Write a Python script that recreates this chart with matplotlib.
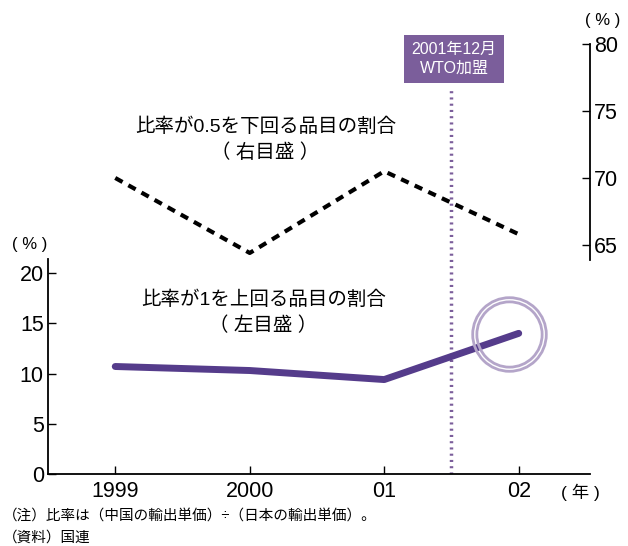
import matplotlib.pyplot as plt

plt.rcParams['font.family'] = ['Liberation Sans', 'Noto Sans CJK JP', 'DejaVu Sans']

years = [1999, 2000, 2001, 2002]
year_labels = ['1999', '2000', '01', '02']
above_1 = [10.7, 10.3, 9.4, 14.0]      # left scale
below_05 = [70.0, 64.4, 70.5, 65.8]    # right scale
wto_x = 2001.5
left_ticks = [0, 5, 10, 15, 20]
right_ticks = [65, 70, 75, 80]

purple = '#553c8b'
box_purple = '#7b5e9b'
ring = '#b4a5c9'

fig = plt.figure(figsize=(6.28, 5.46), dpi=100)
ax = fig.add_axes([48/628, 1 - 474/546, (590-48)/628, (474-44)/546])
ax.set_xlim(1998.5, 2002.53)
ax.set_ylim(0, 42.8)

ax.plot(years, above_1, color=purple, lw=5, solid_capstyle='round', zorder=3)
# highlight ring around last point
ax.plot(years[-1] - 0.07, above_1[-1] - 0.1, 'o', ms=53, mfc='none', mec=ring, mew=2, zorder=4)
ax.plot(years[-1] - 0.07, above_1[-1] - 0.1, 'o', ms=47, mfc='none', mec=ring, mew=2, zorder=4)

ax.axvline(wto_x, ymin=0, ymax=0.893, color=box_purple, lw=2.5, ls=(0, (0.6, 1.2)), zorder=2)

for s in ['top', 'right']:
    ax.spines[s].set_visible(False)
ax.spines['left'].set_bounds(0, 21.4)
ax.spines['left'].set_linewidth(1.3)
ax.spines['bottom'].set_linewidth(1.3)
ax.set_yticks(left_ticks)
ax.set_xticks(years)
ax.set_xticklabels(year_labels)
ax.tick_params(direction='in', length=6, width=1, labelsize=15.5, pad=3)
ax.tick_params(axis='x', pad=5)

ax2 = ax.twinx()
ax2.set_ylim(47.9, 80)
ax2.plot(years, below_05, color='black', lw=3, ls=(0, (2, 1.6)))
for s in ['top', 'left', 'bottom']:
    ax2.spines[s].set_visible(False)
ax2.spines['right'].set_bounds(63.9, 80)
ax2.spines['right'].set_linewidth(1.3)
ax2.set_yticks(right_ticks)
ax2.tick_params(direction='in', length=6, width=1, labelsize=15.5, pad=3)

# labels
fig.text(30/628, 1 - 245/546, '( % )', fontsize=12, ha='center', va='center')
fig.text(603/628, 1 - 20/546, '( % )', fontsize=12, ha='center', va='center')
fig.text(580/628, 1 - 492/546, '( 年 )', fontsize=12.5, ha='center', va='center')

fig.text(266/628, 1 - 127/546, '比率が0.5を下回る品目の割合', fontsize=14, ha='center', va='center')
fig.text(265/628, 1 - 153/546, '（ 右目盛 ）', fontsize=14, ha='center', va='center')
fig.text(264/628, 1 - 300/546, '比率が1を上回る品目の割合', fontsize=14, ha='center', va='center')
fig.text(263/628, 1 - 326/546, '（ 左目盛 ）', fontsize=14, ha='center', va='center')

fig.text(454/628, 1 - 59/546, '2001年12月\nWTO加盟', fontsize=11.5, color='white',
         ha='center', va='center', linespacing=1.35,
         bbox=dict(boxstyle='square,pad=0.45', fc=box_purple, ec='none'))

fig.text(3/628, 1 - 516/546, '（注）比率は（中国の輸出単価）÷（日本の輸出単価）。', fontsize=10.5, ha='left', va='center')
fig.text(3/628, 1 - 538/546, '（資料）国連', fontsize=10.5, ha='left', va='center')

fig.savefig('out.png', dpi=100)
